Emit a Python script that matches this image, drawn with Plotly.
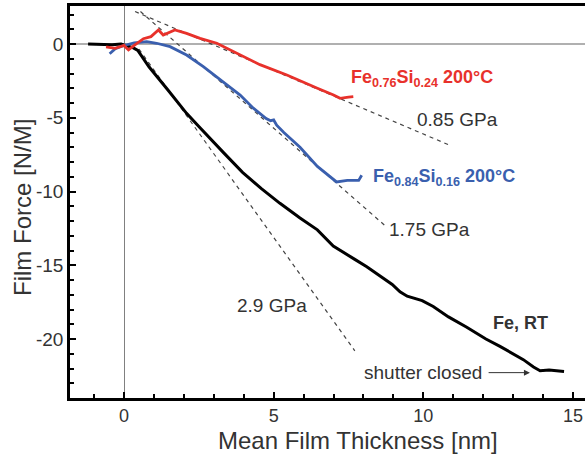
import plotly.graph_objects as go

# ---- data ----
fe_rt_x = [-1.2, -0.8, -0.4, -0.1, 0.1, 0.3, 0.46, 0.84, 1.46, 2.09, 2.5, 2.84, 3.34, 3.96, 4.59, 5.21,
           5.88, 6.46, 6.99, 7.71, 8.11, 8.96, 9.22, 9.46, 9.96, 10.33, 10.84, 11.45, 12.09, 12.56,
           13.34, 13.68, 13.9, 14.2, 14.59, 14.7]
fe_rt_y = [0, -0.05, -0.05, 0, -0.1, -0.25, -0.43, -1.56, -3.1, -4.7, -5.6, -6.3, -7.4, -8.7, -9.8, -10.8,
           -11.8, -12.6, -13.7, -14.6, -15.1, -16.3, -16.8, -17.1, -17.4, -17.8, -18.5, -19.2, -20.0, -20.5,
           -21.4, -21.9, -22.15, -22.1, -22.15, -22.2]

fesi24_x = [-0.6, -0.3, 0, 0.15, 0.34, 0.65, 0.9, 1.15, 1.31, 1.5, 1.7, 2.09, 2.54, 3.1, 3.65, 4.54,
            5.44, 5.88, 6.46, 7.0, 7.22, 7.5, 7.66]
fesi24_y = [-0.2, -0.3, -0.1, -0.4, -0.1, 0.36, 0.5, 0.95, 0.61, 0.75, 0.95, 0.72, 0.38, 0.05, -0.5, -1.4,
            -2.1, -2.5, -3.0, -3.46, -3.68, -3.6, -3.57]

fesi16_x = [-0.48, -0.29, 0, 0.34, 0.76, 1.09, 1.54, 2.09, 2.65, 3.21, 3.88, 4.32, 4.75, 4.9, 5.0, 5.1,
            5.34, 5.88, 6.46, 7.1, 7.46, 7.84, 7.94]
fesi16_y = [-0.66, -0.32, -0.1, 0.07, 0.16, 0.05, -0.18, -0.75, -1.54, -2.44, -3.46, -4.35, -5.05, -5.2,
            -5.15, -5.5, -6.0, -7.0, -8.3, -9.35, -9.25, -9.25, -8.9]

fit_085_x = [0.37, 10.9]
fit_085_y = [2.2, -6.88]
fit_175_x = [0.55, 8.78]
fit_175_y = [2.2, -12.42]
fit_29_x = [0.5, 7.71]
fit_29_y = [-0.35, -20.8]

x_ticks = [0, 5, 10, 15]
y_ticks = [0, -5, -10, -15, -20]

FONT = "Arial, 'Liberation Sans', sans-serif"
RED = "#e8312b"
BLUE = "#3a5fae"
DARK = "#333333"

fig = go.Figure()
for fx, fy in [(fit_085_x, fit_085_y), (fit_175_x, fit_175_y), (fit_29_x, fit_29_y)]:
    fig.add_trace(go.Scatter(x=fx, y=fy, mode="lines",
                             line=dict(color="#444444", width=1.2, dash="4px,4px"),
                             showlegend=False, hoverinfo="skip"))
fig.add_trace(go.Scatter(x=fe_rt_x, y=fe_rt_y, mode="lines",
                         line=dict(color="#000000", width=3), showlegend=False))
fig.add_trace(go.Scatter(x=fesi16_x, y=fesi16_y, mode="lines",
                         line=dict(color=BLUE, width=2.8), showlegend=False))
fig.add_trace(go.Scatter(x=fesi24_x, y=fesi24_y, mode="lines",
                         line=dict(color=RED, width=2.8), showlegend=False))

ann = []
ann.append(dict(x=7.52, y=-2.33, xanchor="left", yanchor="middle",
                text="<b>Fe<sub>0.76</sub>Si<sub>0.24</sub> 200°C</b>",
                font=dict(color=RED, size=18, family=FONT), showarrow=False))
ann.append(dict(x=8.24, y=-9.04, xanchor="left", yanchor="middle",
                text="<b>Fe<sub>0.84</sub>Si<sub>0.16</sub> 200°C</b>",
                font=dict(color=BLUE, size=18, family=FONT), showarrow=False))
for tx, ty, t in [(11.14, -5.15, "0.85 GPa"), (10.21, -12.56, "1.75 GPa"), (4.95, -17.7, "2.9 GPa")]:
    ann.append(dict(x=tx, y=ty, xanchor="center", yanchor="middle", text=t,
                    font=dict(color=DARK, size=19, family=FONT), showarrow=False))
ann.append(dict(x=13.26, y=-18.9, xanchor="center", yanchor="middle", text="<b>Fe, RT</b>",
                font=dict(color=DARK, size=18, family=FONT), showarrow=False))
ann.append(dict(x=9.99, y=-22.28, xanchor="center", yanchor="middle", text="shutter closed",
                font=dict(color=DARK, size=19, family=FONT), showarrow=False))
ann.append(dict(x=13.56, y=-22.28, ax=12.13, ay=-22.28, axref="x", ayref="y", text="",
                showarrow=True, arrowhead=2, arrowsize=1.2, arrowwidth=1, arrowcolor=DARK))
# axis titles (placed as in the reference, whose plot area extends past the right edge)
ann.append(dict(xref="paper", yref="paper", x=(358 - 70) / 515, y=-(440 - 398) / 392,
                xanchor="center", yanchor="middle", text="Mean Film Thickness [nm]",
                font=dict(size=24, color=DARK, family=FONT), showarrow=False))
ann.append(dict(xref="paper", yref="paper", x=-(70 - 22) / 515, y=(398 - 208) / 392,
                xanchor="center", yanchor="middle", text="Film Force [N/M]", textangle=-90,
                font=dict(size=24, color=DARK, family=FONT), showarrow=False))

fig.update_layout(
    width=585, height=454, autosize=False,
    margin=dict(l=70, r=0, t=6, b=56),
    paper_bgcolor="white", plot_bgcolor="white",
    font=dict(family=FONT, color=DARK),
    annotations=ann,
    xaxis=dict(range=[-1.804, 15.40], tickvals=x_ticks, ticktext=[str(v) for v in x_ticks],
               ticks="inside", ticklen=6, tickwidth=1.5, tickcolor="#000",
               minor=dict(dtick=1, ticks="inside", ticklen=4, tickwidth=1.5, tickcolor="#000"),
               showline=True, linecolor="#000", linewidth=2.5, mirror=True,
               showgrid=False, zeroline=True, zerolinecolor="#808080", zerolinewidth=1,
               tickfont=dict(size=18, color=DARK, family=FONT)),
    yaxis=dict(range=[-24.0, 2.576], tickvals=y_ticks, ticktext=[str(v) for v in y_ticks],
               ticks="inside", ticklen=6, tickwidth=1.5, tickcolor="#000",
               minor=dict(dtick=1, ticks="inside", ticklen=4, tickwidth=1.5, tickcolor="#000"),
               showline=True, linecolor="#000", linewidth=2.5,
               showgrid=False, zeroline=True, zerolinecolor="#b0b0b0", zerolinewidth=2,
               tickfont=dict(size=19, color=DARK, family=FONT)),
)

fig.write_html("out.html", config={"displayModeBar": False},
               post_script="document.body.style.margin='0';document.body.style.overflow='hidden';")
